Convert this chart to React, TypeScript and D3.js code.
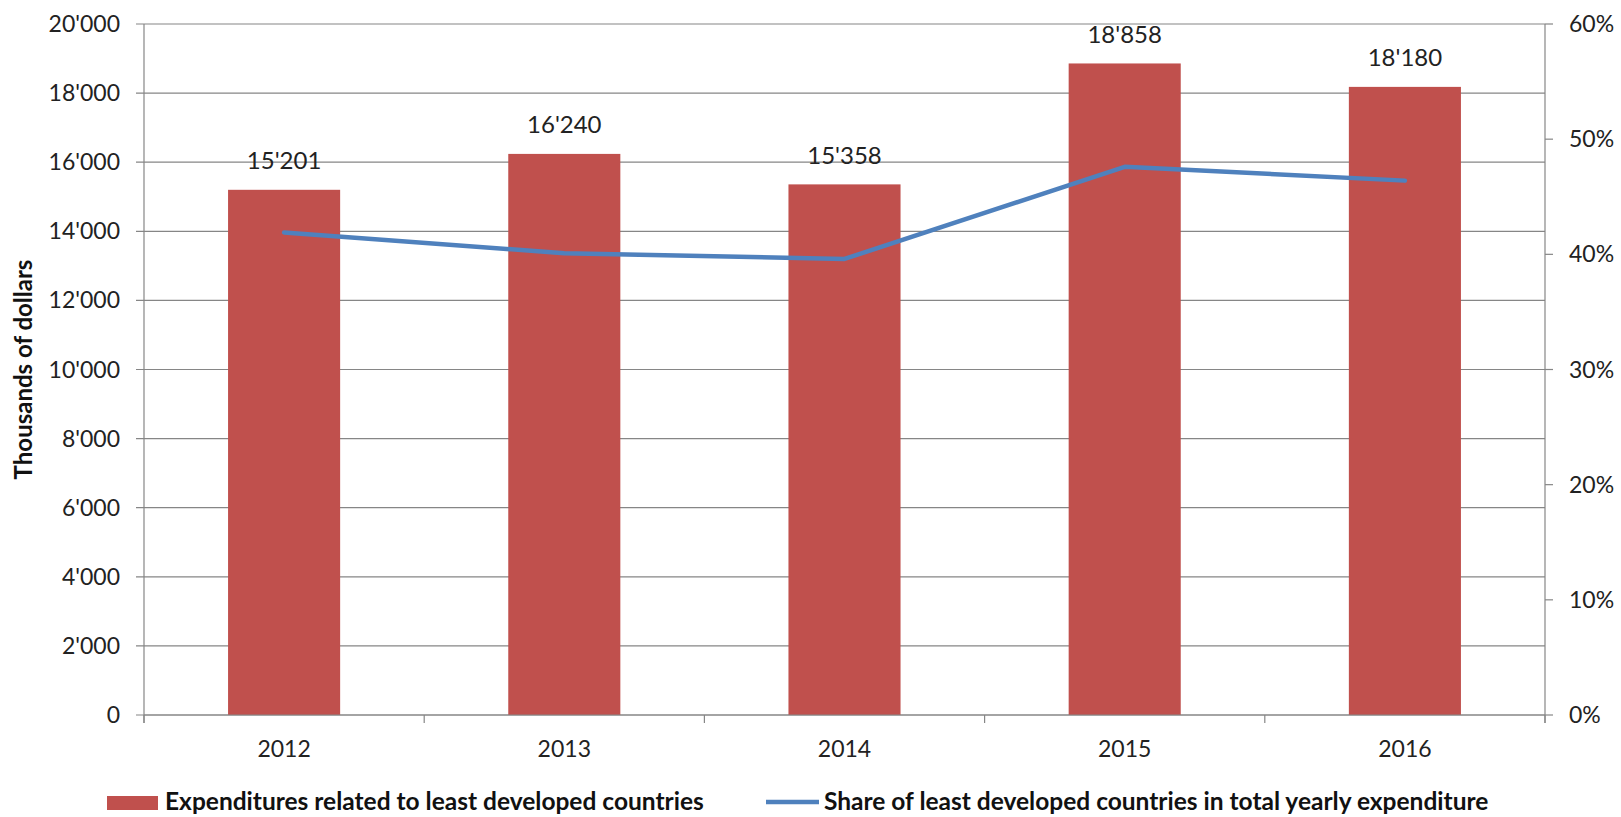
import React, { useEffect, useRef } from 'react';
import * as d3 from 'd3';

const years = ['2012', '2013', '2014', '2015', '2016'];
const expenditures = [15201, 16240, 15358, 18858, 18180];
const sharePct = [41.9, 40.1, 39.6, 47.6, 46.4];
const leftTicks = [0, 2000, 4000, 6000, 8000, 10000, 12000, 14000, 16000, 18000, 20000];
const rightTicks = [0, 10, 20, 30, 40, 50, 60];

const barLabel = 'Expenditures related to least developed countries';
const lineLabel = 'Share of least developed countries in total yearly expenditure';

const W = 1621;
const H = 817;
const FONT = 'Lato, "Open Sans", sans-serif';

const fmt = (v: number) => {
  const s = d3.format(',')(v);
  return s.replace(/,/g, "'");
};

const App: React.FC = () => {
  const svgRef = useRef<SVGSVGElement>(null);

  useEffect(() => {
    if (!svgRef.current) return;
    const svg = d3.select(svgRef.current);
    svg.selectAll('*').remove();

    const left = 144;
    const right = 1545;
    const top = 24;
    const bottom = 715;
    const axisColor = '#868686';

    const x = d3.scaleBand<string>().domain(years).range([left, right]).paddingInner(0.6).paddingOuter(0.3);
    const xBand = d3.scaleBand<string>().domain(years).range([left, right]);
    const y = d3.scaleLinear().domain([0, 20000]).range([bottom, top]);
    const yR = d3.scaleLinear().domain([0, 60]).range([bottom, top]);

    // gridlines + left ticks
    svg.append('g')
      .selectAll('line')
      .data(leftTicks)
      .enter()
      .append('line')
      .attr('x1', left - 8)
      .attr('x2', right)
      .attr('y1', d => y(d))
      .attr('y2', d => y(d))
      .attr('stroke', axisColor)
      .attr('stroke-width', 1.2);

    svg.append('g')
      .selectAll('text')
      .data(leftTicks)
      .enter()
      .append('text')
      .attr('x', 120)
      .attr('y', d => y(d))
      .attr('dy', '0.35em')
      .attr('text-anchor', 'end')
      .style('font-family', FONT)
      .style('font-size', '23px')
      .style('fill', '#222')
      .text(d => fmt(d));

    // right axis
    svg.append('line')
      .attr('x1', right).attr('x2', right)
      .attr('y1', top).attr('y2', bottom + 8)
      .attr('stroke', axisColor).attr('stroke-width', 1.2);

    svg.append('g')
      .selectAll('line')
      .data(rightTicks)
      .enter()
      .append('line')
      .attr('x1', right)
      .attr('x2', right + 8)
      .attr('y1', d => yR(d))
      .attr('y2', d => yR(d))
      .attr('stroke', axisColor)
      .attr('stroke-width', 1.2);

    svg.append('g')
      .selectAll('text')
      .data(rightTicks)
      .enter()
      .append('text')
      .attr('x', 1569)
      .attr('y', d => yR(d))
      .attr('dy', '0.35em')
      .style('font-family', FONT)
      .style('font-size', '23px')
      .style('fill', '#222')
      .text(d => `${d}%`);

    // bars
    svg.append('g')
      .selectAll('rect')
      .data(expenditures)
      .enter()
      .append('rect')
      .attr('x', (_, i) => x(years[i])!)
      .attr('width', x.bandwidth())
      .attr('y', d => y(d))
      .attr('height', d => bottom - y(d))
      .attr('fill', '#C0504D');

    // left axis + x axis
    svg.append('line')
      .attr('x1', left).attr('x2', left)
      .attr('y1', top).attr('y2', bottom + 8)
      .attr('stroke', axisColor).attr('stroke-width', 1.2);
    svg.append('line')
      .attr('x1', left).attr('x2', right)
      .attr('y1', bottom).attr('y2', bottom)
      .attr('stroke', axisColor).attr('stroke-width', 1.2);

    const bounds = years.map(yr => xBand(yr)!).concat([right]);
    svg.append('g')
      .selectAll('line')
      .data(bounds)
      .enter()
      .append('line')
      .attr('x1', d => d).attr('x2', d => d)
      .attr('y1', bottom).attr('y2', bottom + 8)
      .attr('stroke', axisColor).attr('stroke-width', 1.2);

    svg.append('g')
      .selectAll('text')
      .data(years)
      .enter()
      .append('text')
      .attr('x', d => xBand(d)! + xBand.bandwidth() / 2)
      .attr('y', 749)
      .attr('dy', '0.35em')
      .attr('text-anchor', 'middle')
      .style('font-family', FONT)
      .style('font-size', '23px')
      .style('fill', '#222')
      .text(d => d);

    // bar value labels
    svg.append('g')
      .selectAll('text')
      .data(expenditures)
      .enter()
      .append('text')
      .attr('x', (_, i) => xBand(years[i])! + xBand.bandwidth() / 2)
      .attr('y', d => y(d) - 29)
      .attr('dy', '0.35em')
      .attr('text-anchor', 'middle')
      .style('font-family', FONT)
      .style('font-size', '24px')
      .style('fill', '#222')
      .text(d => fmt(d));

    // line
    const line = d3.line<number>()
      .x((_, i) => xBand(years[i])! + xBand.bandwidth() / 2)
      .y(d => yR(d));
    svg.append('path')
      .datum(sharePct)
      .attr('d', line)
      .attr('fill', 'none')
      .attr('stroke', '#4F81BD')
      .attr('stroke-width', 4.5)
      .attr('stroke-linejoin', 'round')
      .attr('stroke-linecap', 'round');

    // y title
    svg.append('text')
      .attr('transform', `translate(24, ${(top + bottom) / 2}) rotate(-90)`)
      .attr('text-anchor', 'middle')
      .attr('dy', '0.35em')
      .style('font-family', FONT)
      .style('font-size', '24px')
      .style('font-weight', '700')
      .style('fill', '#111')
      .text('Thousands of dollars');

    // legend
    const lg = svg.append('g');
    lg.append('rect')
      .attr('x', 107).attr('y', 796).attr('width', 51).attr('height', 14)
      .attr('fill', '#C0504D');
    lg.append('text')
      .attr('x', 165).attr('y', 801).attr('dy', '0.35em')
      .style('font-family', FONT).style('font-size', '24.5px').style('font-weight', '700')
      .style('fill', '#111')
      .text(barLabel);
    lg.append('line')
      .attr('x1', 766).attr('x2', 819).attr('y1', 802).attr('y2', 802)
      .attr('stroke', '#4F81BD').attr('stroke-width', 4.5);
    lg.append('text')
      .attr('x', 824).attr('y', 801).attr('dy', '0.35em')
      .style('font-family', FONT).style('font-size', '24.5px').style('font-weight', '700')
      .style('fill', '#111')
      .text(lineLabel);
  }, []);

  return (
    <svg
      ref={svgRef}
      width={W}
      height={H}
      viewBox={`0 0 ${W} ${H}`}
      style={{ position: 'absolute', left: 0, top: 0, background: '#fff' }}
    />
  );
};

export default App;
